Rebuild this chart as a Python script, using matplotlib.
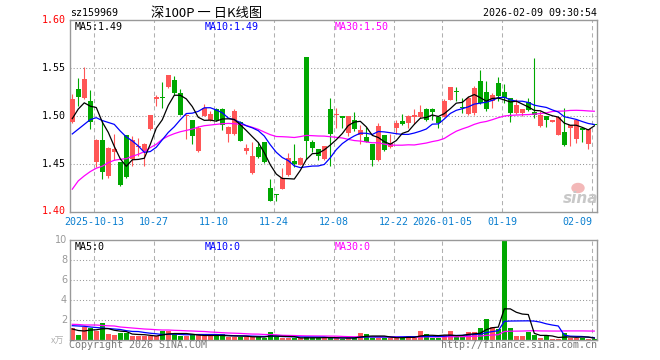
import numpy as np
import matplotlib
matplotlib.use('Agg')
import matplotlib.pyplot as plt
from matplotlib.patches import Ellipse

# ---------------- data ----------------
opens = [1.493, 1.528, 1.519, 1.515, 1.452, 1.475, 1.437, 1.462, 1.452, 1.480,
         1.455, 1.467, 1.463, 1.486, 1.518, 1.520, 1.530, 1.537, 1.524, 1.500,
         1.496, 1.463, 1.500, 1.496, 1.507, 1.507, 1.481, 1.481, 1.493, 1.463,
         1.440, 1.467, 1.473, 1.425, 1.418, 1.423, 1.438, 1.453, 1.449, 1.561,
         1.473, 1.465, 1.4545, 1.507, 1.501, 1.4997, 1.482, 1.496, 1.4795, 1.478,
         1.471, 1.4535, 1.4795, 1.467, 1.487, 1.495, 1.492, 1.4986, 1.4986, 1.507,
         1.5066, 1.499, 1.499, 1.516, 1.5252, 1.5094, 1.502, 1.503, 1.536, 1.525,
         1.515, 1.534, 1.525, 1.519, 1.503, 1.5024, 1.514, 1.504, 1.489, 1.500,
         1.493, 1.480, 1.483, 1.487, 1.476, 1.487, 1.470, 1.4905]
highs = [1.523, 1.539, 1.551, 1.527, 1.476, 1.496, 1.467, 1.481, 1.452, 1.480,
         1.479, 1.477, 1.472, 1.501, 1.522, 1.535, 1.543, 1.542, 1.528, 1.502,
         1.496, 1.489, 1.512, 1.505, 1.508, 1.508, 1.489, 1.507, 1.494, 1.470,
         1.473, 1.473, 1.473, 1.434, 1.418, 1.445, 1.461, 1.471, 1.457, 1.561,
         1.475, 1.465, 1.468, 1.519, 1.508, 1.4997, 1.500, 1.504, 1.490, 1.488,
         1.471, 1.492, 1.4795, 1.481, 1.496, 1.502, 1.501, 1.507, 1.511, 1.508,
         1.508, 1.499, 1.518, 1.530, 1.530, 1.519, 1.521, 1.531, 1.548, 1.536,
         1.524, 1.540, 1.533, 1.519, 1.517, 1.507, 1.519, 1.560, 1.505, 1.500,
         1.496, 1.499, 1.508, 1.490, 1.496, 1.487, 1.486, 1.491]
lows = [1.492, 1.510, 1.517, 1.486, 1.446, 1.434, 1.435, 1.454, 1.427, 1.435,
        1.447, 1.458, 1.448, 1.485, 1.510, 1.508, 1.529, 1.522, 1.501, 1.476,
        1.470, 1.462, 1.500, 1.494, 1.494, 1.485, 1.473, 1.480, 1.474, 1.460,
        1.439, 1.456, 1.451, 1.411, 1.411, 1.423, 1.437, 1.446, 1.449, 1.455,
        1.462, 1.4535, 1.4535, 1.448, 1.487, 1.487, 1.479, 1.484, 1.470, 1.473,
        1.447, 1.453, 1.463, 1.4667, 1.481, 1.490, 1.4875, 1.491, 1.498, 1.494,
        1.496, 1.487, 1.499, 1.516, 1.515, 1.503, 1.501, 1.501, 1.512, 1.505,
        1.508, 1.515, 1.5135, 1.493, 1.502, 1.4997, 1.505, 1.498, 1.488, 1.488,
        1.493, 1.480, 1.468, 1.468, 1.472, 1.473, 1.465, 1.490]
closes = [1.517, 1.520, 1.538, 1.493, 1.475, 1.441, 1.466, 1.465, 1.428, 1.436,
          1.475, 1.468, 1.471, 1.501, 1.520, 1.519, 1.543, 1.524, 1.501, 1.501,
          1.479, 1.487, 1.508, 1.502, 1.496, 1.490, 1.488, 1.505, 1.474, 1.466,
          1.458, 1.457, 1.452, 1.411, 1.4175, 1.435, 1.456, 1.450, 1.456, 1.474,
          1.466, 1.458, 1.468, 1.481, 1.502, 1.498, 1.500, 1.486, 1.485, 1.473,
          1.4535, 1.489, 1.464, 1.472, 1.492, 1.491, 1.4997, 1.5003, 1.504, 1.496,
          1.504, 1.492, 1.515, 1.530, 1.5248, 1.508, 1.519, 1.529, 1.5135, 1.507,
          1.522, 1.521, 1.519, 1.503, 1.511, 1.507, 1.506, 1.501, 1.501, 1.496,
          1.496, 1.499, 1.4695, 1.490, 1.496, 1.4847, 1.486, 1.4903]
volumes = [1.17, 0.5, 1.33, 1.17, 0.93, 1.67, 0.6, 0.5, 0.73, 0.73,
           0.4, 0.4, 0.4, 0.4, 0.4, 0.9, 0.9, 0.63, 0.4, 0.4,
           0.57, 0.5, 0.4, 0.4, 0.4, 0.57, 0.33, 0.33, 0.33, 0.33,
           0.3, 0.3, 0.23, 0.83, 0.3, 0.17, 0.23, 0.17, 0.17, 0.3,
           0.23, 0.23, 0.23, 0.23, 0.23, 0.1, 0.23, 0.23, 0.7, 0.6,
           0.23, 0.23, 0.23, 0.23, 0.23, 0.23, 0.4, 0.23, 0.9, 0.6,
           0.23, 0.23, 0.5, 0.9, 0.33, 0.33, 0.77, 0.77, 1.2, 2.1,
           1.3, 1.07, 9.9, 1.2, 0.4, 0.4, 0.83, 0.5, 0.17, 0.4,
           0.1, 0.1, 0.7, 0.23, 0.23, 0.23, 0.1, 0.1]

# moving-average values before enough history exists
ma5_head = [1.497, 1.507, 1.5135, 1.510]
ma10_head = [1.481, 1.486, 1.491, 1.496, 1.498, 1.495, 1.493, 1.491, 1.484]
ma30_head = [1.4233, 1.432, 1.4372, 1.4417, 1.4452, 1.4473, 1.451, 1.4535, 1.4545, 1.4552,
             1.4577, 1.4597, 1.4625, 1.4667, 1.4702, 1.4754, 1.4788, 1.4813, 1.4833, 1.4847,
             1.4861, 1.4882, 1.4896, 1.4903, 1.491, 1.4917, 1.492, 1.4917, 1.491]
vma5_head = [1.1, 0.95, 0.9, 1.0]
vma10_head = [1.43, 1.4, 1.37, 1.3, 1.25, 1.2, 1.15, 1.1, 1.05]
vma30_head = [1.57, 1.55, 1.5, 1.5, 1.5, 1.45, 1.42, 1.4, 1.3, 1.25,
              1.2, 1.15, 1.1, 1.07, 1.03, 1.0, 1.0, 0.97, 0.95, 0.92,
              0.9, 0.87, 0.85, 0.8, 0.77, 0.73, 0.7, 0.68, 0.66]

tick_idx = [4, 14, 24, 34, 44, 54, 62, 72, 87]
tick_labels = ['2025-10-13', '10-27', '11-10', '11-24', '12-08', '12-22',
               '2026-01-05', '01-19', '02-09']
price_ticks = [1.60, 1.55, 1.50, 1.45, 1.40]
vol_ticks = [10, 8, 6, 4, 2]

title = '深100P 一 日K线图'
code = 'sz159969'
stamp = '2026-02-09 09:30:54'

# ---------------- helpers ----------------
W, H = 660, 360
def fx(x):
    return x / W
def fy(y):
    return 1 - y / H

def moving_avg(vals, n, head):
    vals = np.asarray(vals, float)
    out = np.empty(len(vals))
    out[:n - 1] = head
    for i in range(n - 1, len(vals)):
        out[i] = vals[i - n + 1:i + 1].mean()
    return out

RED = '#ff5656'
GREEN = '#00a800'
MONO = 'DejaVu Sans Mono'
FS = 7.2

o = np.array(opens); h = np.array(highs); l = np.array(lows); c = np.array(closes)
v = np.array(volumes)
x = np.arange(len(o))
up = c >= o
cols = np.where(up, RED, GREEN)

fig = plt.figure(figsize=(6.6, 3.6), dpi=100)
fig.patch.set_facecolor('white')

ax = fig.add_axes([fx(70), fy(211.5), (597 - 70) / W, (211.5 - 20) / H])
axv = fig.add_axes([fx(70), fy(340), (597 - 70) / W, (340 - 240) / H])

XL = (-0.38, 87.45)
for a in (ax, axv):
    a.set_xlim(*XL)
    a.set_xticks([]); a.set_yticks([])
    for s in a.spines.values():
        s.set_color('#999999')
        s.set_linewidth(1.0)
    for t in tick_idx:
        a.axvline(t - 0.35, color='#b0b0b0', lw=0.75, ls=(0, (4, 3)), zorder=0)

ax.set_ylim(1.40, 1.60)
axv.set_ylim(0, 10)
for p in price_ticks[1:-1]:
    ax.axhline(p, color='#999999', lw=0.75, ls=(0, (1, 2)), zorder=0)
for q in vol_ticks[1:]:
    axv.axhline(q, color='#999999', lw=0.75, ls=(0, (1, 2)), zorder=0)

# candles
ax.vlines(x, l, h, colors=cols, lw=0.8, zorder=2)
body_b = np.minimum(o, c)
body_h = np.maximum(np.abs(c - o), 0.0006)
ax.bar(x, body_h, width=0.8, bottom=body_b, color=cols, linewidth=0, zorder=3)

ma5 = moving_avg(c, 5, ma5_head)
ma10 = moving_avg(c, 10, ma10_head)
ma30 = moving_avg(c, 30, ma30_head)
ax.plot(x, ma30, color='#ff00ff', lw=0.9, zorder=4)
ax.plot(x, ma10, color='#0000ff', lw=0.9, zorder=5)
ax.plot(x, ma5, color='#000000', lw=0.9, zorder=6)

# volume
axv.bar(x, v, width=0.8, color=cols, linewidth=0, zorder=2)
vma5 = moving_avg(v, 5, vma5_head)
vma10 = moving_avg(v, 10, vma10_head)
vma30 = moving_avg(v, 30, vma30_head)
axv.plot(x, vma30, color='#ff00ff', lw=0.9, zorder=4)
axv.plot(x, vma10, color='#0000ff', lw=0.9, zorder=5)
axv.plot(x, vma5, color='#000000', lw=0.9, zorder=6)

# price labels
ytr = ax.get_yaxis_transform()
for p in price_ticks:
    colr = 'red' if p in (price_ticks[0], price_ticks[-1]) else 'black'
    ax.text(-4 / 527, p, f'{p:.2f}', transform=ytr, ha='right', va='center',
            fontsize=FS, family=MONO, color=colr)
vtr = axv.get_yaxis_transform()
for q in vol_ticks:
    axv.text(-3 / 527, q, f'{q}', transform=vtr, ha='right', va='center',
             fontsize=7, color='#999999')
fig.text(fx(64), fy(341), 'x万', ha='right', va='center', fontsize=6.5,
         color='#b0b0b0', family=['Noto Sans CJK SC', 'DejaVu Sans'])

# date labels
xtr = ax.get_xaxis_transform()
for t, lab in zip(tick_idx, tick_labels):
    last = t == tick_idx[-1]
    ax.text(t - 0.35, -10.2 / 191.5, lab, transform=xtr,
            ha='right' if last else 'center', va='center', fontsize=FS,
            family=MONO, color='#0a7fd0')

# header texts
fig.text(fx(70), fy(13), code, ha='left', va='center', fontsize=FS, family=MONO)
fig.text(fx(207), fy(13), title, ha='center', va='center', fontsize=9.5,
         family=['Noto Sans CJK SC', 'DejaVu Sans'])
fig.text(fx(597), fy(13), stamp, ha='right', va='center', fontsize=FS, family=MONO)

# MA legends
fig.text(fx(75), fy(26.5), f'MA5:{ma5[-1]:.2f}', fontsize=FS, family=MONO, va='center', color='black')
fig.text(fx(205), fy(26.5), f'MA10:{ma10[-1]:.2f}', fontsize=FS, family=MONO, va='center', color='#0000ff')
fig.text(fx(334.5), fy(26.5), f'MA30:{ma30[-1]:.2f}', fontsize=FS, family=MONO, va='center', color='#ff00ff')
fig.text(fx(75), fy(246.5), 'MA5:0', fontsize=FS, family=MONO, va='center', color='black')
fig.text(fx(205), fy(246.5), 'MA10:0', fontsize=FS, family=MONO, va='center', color='#0000ff')
fig.text(fx(334.5), fy(246.5), 'MA30:0', fontsize=FS, family=MONO, va='center', color='#ff00ff')

# footer
fig.text(fx(69), fy(345.5), 'Copyright 2026 SINA.COM', fontsize=FS, family=MONO,
         va='center', ha='left', color='#7a7a7a')
fig.text(fx(597), fy(345.5), 'http://finance.sina.com.cn', fontsize=FS, family=MONO,
         va='center', ha='right', color='#7a7a7a')

# sina watermark
fig.add_artist(Ellipse((fx(578), fy(188)), 12 / W, 9 / H, transform=fig.transFigure,
                       color='#f3b8b8', zorder=1))
fig.text(fx(581), fy(198), 'sina', fontsize=11, fontweight='bold', style='italic',
         color='#c8c8c8', ha='center', va='center', zorder=2)

fig.savefig('out.png', dpi=100)
